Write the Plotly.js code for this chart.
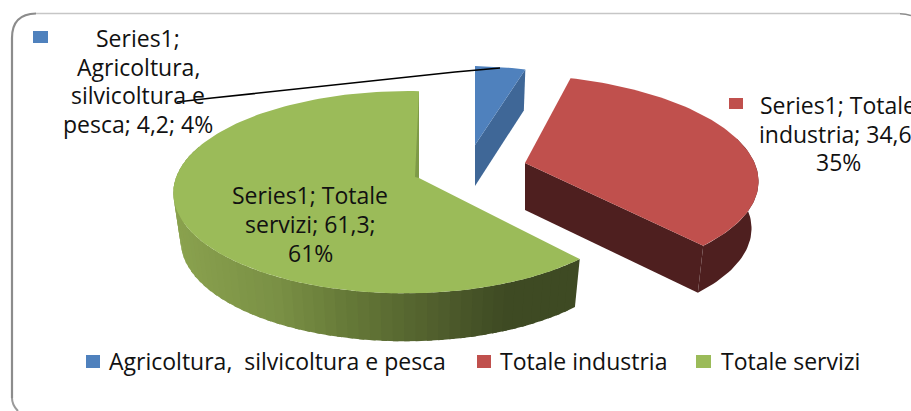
<!DOCTYPE html>
<html><head><meta charset="utf-8">
<script src="https://cdn.plot.ly/plotly-3.0.1.min.js"></script>
<style>html,body{margin:0;padding:0;background:#fff;overflow:hidden}#c{width:911px;height:411px}</style>
</head><body><div id="c"></div>
<script>
const seriesName = "Series1";
const categories = ["Agricoltura,  silvicoltura e pesca", "Totale industria", "Totale servizi"];
const values = [4.2, 34.6, 61.3];
const valueLabels = ["4,2", "34,6", "61,3"];
const percentLabels = ["4%", "35%", "61%"];
const topColors = ["#4F81BD", "#C0504D", "#9BBB59"];
const sideColors = ["#3F6797", "#4E1F1F", "#3E4A23"];

const FONT = "'Open Sans', Lato, sans-serif";
const geo = [
  {cx:475, cy:145, rx:222, ry:90, s:0, d:41},
  {cx:525, cy:163, rx:242, ry:101, s:-0.11, d:47},
  {cx:419, cy:178, rx:230, ry:99, s:0, d:48}
];
const P = 0.14, Q = 0.054, SHRINK = 0.97;

function proj(a, g) {
  const r = a * Math.PI / 180, X = Math.sin(r), Y = Math.cos(r), den = 1 + P * Y + Q * X;
  const xr = g.rx * X / den, yr = g.ry * Y / den;
  return [g.cx + xr + g.s * yr, g.cy - yr];
}
function low(p, g) { return [g.cx + (p[0] - g.cx) * SHRINK, p[1] + g.d]; }
function arc(a0, a1, g) {
  const n = Math.max(2, Math.ceil(Math.abs(a1 - a0) / 1.5)), out = [];
  for (let i = 0; i <= n; i++) out.push(proj(a0 + (a1 - a0) * i / n, g));
  return out;
}
function poly(pts, color, name) {
  return {type:"scatter", mode:"lines", x:pts.map(p=>p[0]), y:pts.map(p=>p[1]), fill:"toself",
    fillcolor:color, line:{width:0, color:color}, hoverinfo:"skip", showlegend:false, name:name||""};
}
function wall(a0, a1, g, color) {
  const t = arc(a0, a1, g);
  return poly(t.concat(t.slice().reverse().map(p => low(p, g))), color);
}
function hex(c){return [1,3,5].map(i=>parseInt(c.substr(i,2),16));}
const gradStops = [[175,"#8AA24E"],[280,"#7A9045"],[350,"#667A38"],[455,"#4D5A2B"],[510,"#3E4A23"]];
function gradColor(x) {
  if (x <= gradStops[0][0]) return gradStops[0][1];
  for (let i = 1; i < gradStops.length; i++) if (x <= gradStops[i][0]) {
    const [x0,c0] = gradStops[i-1], [x1,c1] = gradStops[i], t = (x-x0)/(x1-x0);
    const a = hex(c0), b = hex(c1);
    return "rgb(" + a.map((v,k)=>Math.round(v+(b[k]-v)*t)).join(",") + ")";
  }
  return gradStops[gradStops.length-1][1];
}

const total = values.reduce((s,v)=>s+v,0);
const bounds = [0];
values.forEach(v => bounds.push(bounds[bounds.length-1] + v / total * 360));
const traces = [];

// blue slice
{
  const g = geo[0], a0 = bounds[0], a1 = bounds[1], A = [g.cx, g.cy], E = proj(a1, g);
  traces.push(poly([A, E, low(E,g), [A[0], A[1]+g.d]], sideColors[0]));
  traces.push(poly([A].concat(arc(a0, a1, g)), topColors[0], categories[0]));
}
// red slice
{
  const g = geo[1], a0 = bounds[1], a1 = bounds[2], A = [g.cx, g.cy], E = proj(a1, g);
  traces.push(wall(75, a1, g, sideColors[1]));
  traces.push(poly([A, E, low(E,g), [A[0], A[1]+g.d]], sideColors[1]));
  traces.push(poly([A].concat(arc(a0, a1, g)), topColors[1], categories[1]));
}
// green slice
{
  const g = geo[2], a0 = bounds[2], a1 = bounds[3], A = [g.cx, g.cy];
  const step = 2.5;
  const parts = [];
  for (let a = a0; a < 285; a += step) {
    const m = proj(a + step / 2, g);
    parts.push(wall(a, a + step + 1.2, g, gradColor(m[0])));
  }
  parts.reverse().forEach(p => traces.push(p));
  traces.push(poly([A].concat(arc(a0, a1, g)), topColors[2], categories[2]));
  const T = proj(a1, g);
  traces.push(poly([T, [A[0]-4, A[1]-1], A], "#7E9A47"));
}

const ann = (x, y, text, anchor) => ({x, y, text, xref:"x", yref:"y", showarrow:false,
  xanchor:anchor||"center", yanchor:"middle", align:"center",
  font:{family:FONT, size:23, color:"#111"}});
const block = (x, y0, dy, lines) => lines.map((t, i) => ann(x, y0 + i * dy, t));
const annotations = [].concat(
  block(138, 38, 28.7, [seriesName + ";", "Agricoltura,", "silvicoltura e", "pesca; " + valueLabels[0] + "; " + percentLabels[0]]),
  block(838, 105, 28.7, [seriesName + "; Totale", "industria; " + valueLabels[1] + ";", percentLabels[1]]),
  block(310, 195, 29, [seriesName + "; Totale", "servizi; " + valueLabels[2] + ";", percentLabels[2]]),
  [ann(107, 361, categories[0].replace("  ", "\u00A0 "), "left"),
   ann(498, 361, categories[1], "left"),
   ann(719, 361, categories[2], "left")]
);
const rect = (x0,y0,x1,y1,c) => ({type:"rect", x0,y0,x1,y1, fillcolor:c, line:{width:0}, layer:"above"});
const shapes = [
  {type:"path", path:"M 12 398 L 12 38 Q 12 14 36 13.5", line:{color:"#8C8C8C", width:2.2}, layer:"below"},
  {type:"path", path:"M 36 13.5 L 900 13.5", line:{color:"#C6C6C6", width:1.4}, layer:"below"},
  {type:"path", path:"M 900 13.8 Q 906 14 911 15.5", line:{color:"#8C8C8C", width:1.6}, layer:"below"},
  {type:"path", path:"M 12 398 Q 12 405 18 411", line:{color:"#9A9A9A", width:2}, layer:"below"},
  {type:"path", path:"M 177 102 L 212 98 L 455 72 L 500 68", line:{color:"#000", width:1.7}, layer:"above"},
  rect(33,31,48,43,topColors[0]),
  rect(729,98,743,109,topColors[1]),
  rect(86,355,100,368,topColors[0]),
  rect(477,355,491,368,topColors[1]),
  rect(696,355,711,368,topColors[2])
];
Plotly.newPlot("c", traces, {
  width:911, height:411, margin:{l:0,r:0,t:0,b:0}, paper_bgcolor:"#fff", plot_bgcolor:"#fff",
  showlegend:false, hovermode:false,
  xaxis:{range:[0,911], visible:false, fixedrange:true},
  yaxis:{range:[411,0], visible:false, fixedrange:true},
  annotations, shapes
}, {staticPlot:true, displayModeBar:false});
</script></body></html>
